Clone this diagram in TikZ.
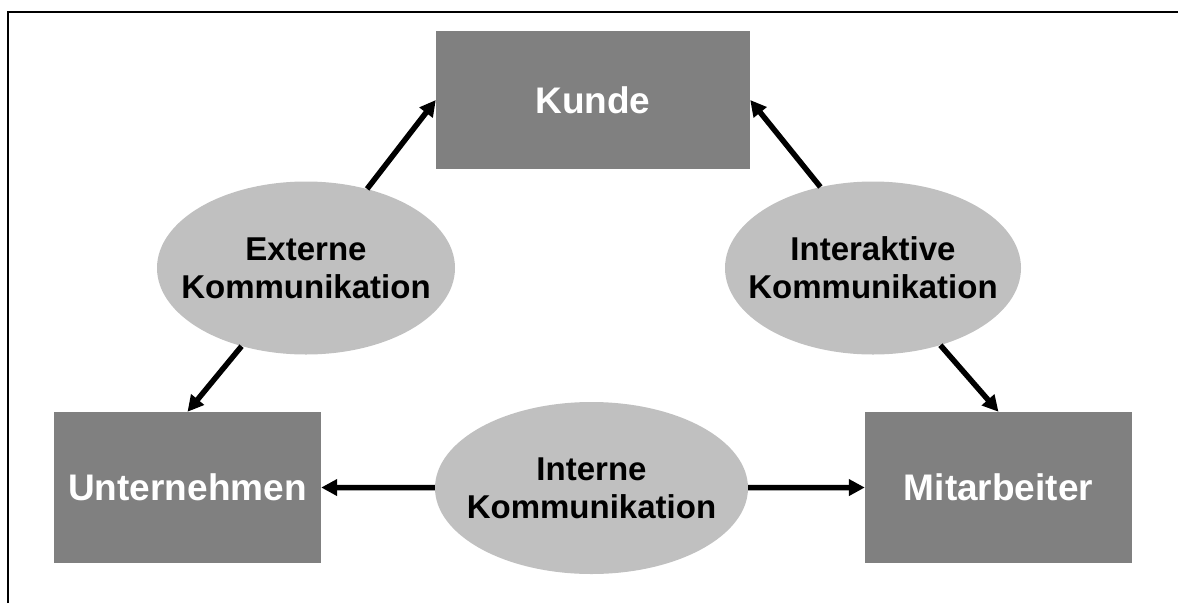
\documentclass[tikz,border=0pt]{standalone}
\usepackage{fontspec}
\setmainfont{Liberation Sans}
\usetikzlibrary{shapes.geometric,arrows.meta}
\definecolor{boxgray}{HTML}{808080}
\definecolor{ovalgray}{HTML}{C0C0C0}
\begin{document}
\begin{tikzpicture}[x=1pt,y=-1pt,
  party/.style={rectangle,fill=boxgray,inner sep=0pt,text=white,
    font=\fontsize{37}{40}\selectfont\bfseries},
  channel/.style={ellipse,fill=ovalgray,inner sep=0pt},
  channeltext/.style={inner sep=0pt,align=center,
    font=\fontsize{33}{38}\selectfont\bfseries},
  arr/.style={line width=5.5pt,-{Triangle[length=16pt,width=16pt]}}]
\useasboundingbox (0,0) rectangle (1178,603);
% frame (top and left edges)
\draw[line width=2.2pt] (8,603) -- (8,12) -- (1178,12);
% parties
\node[party,minimum width=314pt,minimum height=138pt] (kunde) at (593,100) {Kunde};
\node[party,minimum width=267pt,minimum height=151pt] (unt) at (187.5,487.5) {Unternehmen};
\node[party,minimum width=267pt,minimum height=151pt] (mit) at (998.5,487.5) {Mitarbeiter};
% communication channels
\node[channel,minimum width=298pt,minimum height=173pt] (ext) at (306,268) {};
\node[channeltext] (exttext) at (ext) {Externe\\Kommunikation};
\node[channel,minimum width=296pt,minimum height=173pt] (inter) at (873,268) {};
\node[channeltext] (intertext) at (inter) {Interaktive\\Kommunikation};
\node[channel,minimum width=313pt,minimum height=172pt] (int) at (591.5,488) {};
\node[channeltext] (inttext) at (int) {Interne\\Kommunikation};
% arrows
\draw[arr] (ext) -- (kunde.west);
\draw[arr] (ext) -- (unt.north);
\draw[arr] (inter.123) -- (kunde.east);
\draw[arr] (inter) -- (mit.north);
\draw[arr] (int) -- (unt.east);
\draw[arr] (int) -- (mit.west);
\end{tikzpicture}
\end{document}
